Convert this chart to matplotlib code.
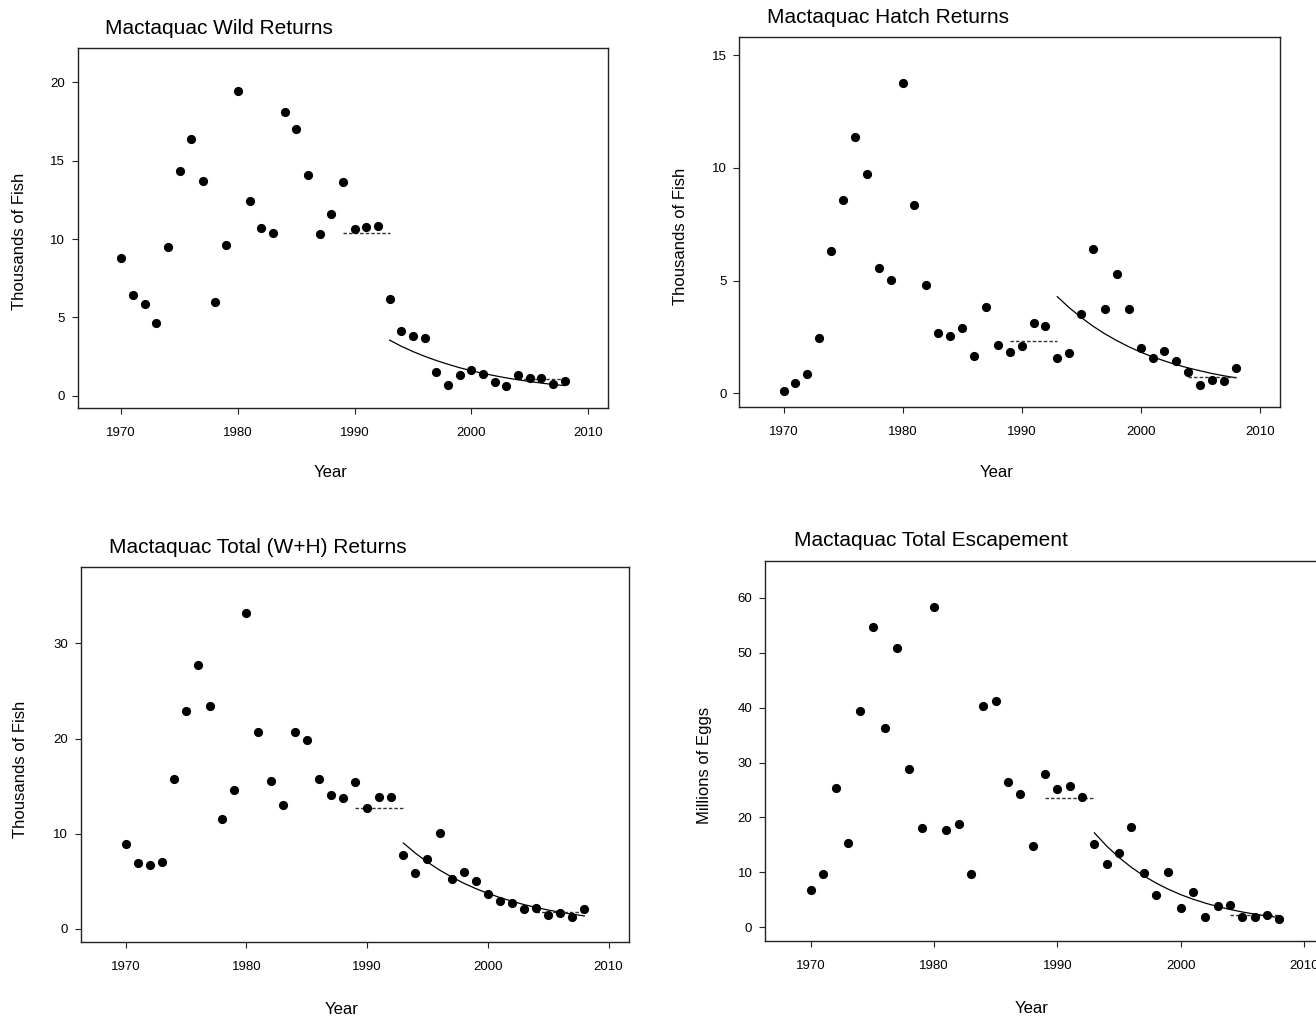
import numpy as np
import matplotlib
matplotlib.use("Agg")
import matplotlib.pyplot as plt

plt.rcParams['font.family'] = ['Liberation Sans', 'DejaVu Sans']

years = list(range(1970, 2009))
fit_years = list(range(1993, 2009))

# Mactaquac wild returns (thousands of fish)
wild = [8.78, 6.45, 5.84, 4.62, 9.50, 14.36, 16.38, 13.72, 5.96, 9.61,
        19.45, 12.40, 10.73, 10.37, 18.13, 17.00, 14.08, 10.29, 11.61, 13.63,
        10.63, 10.78, 10.82, 6.20, 4.13, 3.83, 3.66, 1.49, 0.68, 1.32,
        1.64, 1.36, 0.85, 0.64, 1.30, 1.15, 1.11, 0.72, 0.96]
wild_fit = [3.54, 3.15, 2.81, 2.51, 2.24, 2.00, 1.78, 1.59, 1.42, 1.27,
            1.13, 1.01, 0.90, 0.80, 0.71, 0.64]
wild_mean_early = 10.39
wild_mean_late = 1.06

# Mactaquac hatchery returns (thousands of fish)
hatch = [0.10, 0.44, 0.87, 2.47, 6.33, 8.59, 11.38, 9.72, 5.58, 5.01,
         13.79, 8.36, 4.81, 2.68, 2.56, 2.90, 1.66, 3.82, 2.16, 1.82,
         2.12, 3.14, 3.00, 1.57, 1.78, 3.51, 6.41, 3.76, 5.30, 3.76,
         2.00, 1.58, 1.89, 1.43, 0.93, 0.38, 0.59, 0.55, 1.14]
hatch_fit = [4.29, 3.80, 3.37, 2.98, 2.64, 2.34, 2.07, 1.83, 1.62, 1.44,
             1.27, 1.13, 1.00, 0.88, 0.78, 0.69]
hatch_mean_early = 2.33
hatch_mean_late = 0.72

# Mactaquac total (wild + hatchery) returns (thousands of fish)
total = [8.89, 6.90, 6.72, 7.07, 15.79, 22.90, 27.69, 23.38, 11.52, 14.63,
         33.18, 20.72, 15.54, 13.02, 20.65, 19.81, 15.72, 14.07, 13.76, 15.40,
         12.71, 13.90, 13.83, 7.77, 5.92, 7.39, 10.05, 5.22, 5.99, 5.08,
         3.64, 2.94, 2.73, 2.07, 2.21, 1.51, 1.68, 1.23, 2.10]
total_fit = [9.03, 7.96, 7.02, 6.19, 5.46, 4.81, 4.24, 3.74, 3.30, 2.91,
             2.56, 2.26, 1.99, 1.76, 1.55, 1.37]
total_mean_early = 12.74
total_mean_late = 1.82

# Mactaquac total escapement (millions of eggs)
eggs = [6.73, 9.71, 25.42, 15.35, 39.38, 54.73, 36.29, 50.91, 28.82, 18.02,
        58.37, 17.78, 18.87, 9.71, 40.23, 41.20, 26.52, 24.27, 14.87, 27.97,
        25.18, 25.73, 23.79, 15.11, 11.47, 13.53, 18.33, 9.83, 5.95, 10.13,
        3.58, 6.49, 1.88, 3.94, 4.07, 1.94, 1.82, 2.25, 1.52]
eggs_fit = [17.2, 14.78, 12.70, 10.91, 9.37, 8.05, 6.92, 5.94, 5.11, 4.39,
            3.77, 3.24, 2.78, 2.39, 2.05, 1.76]
eggs_mean_early = 23.6
eggs_mean_late = 2.3

early_span = [1989, 1993]
late_span = [2004, 2008]

panels = [
    dict(title="Mactaquac Wild Returns", ylab="Thousands of Fish",
         y=wild, fit=wild_fit, m1=wild_mean_early, m2=wild_mean_late,
         rect=[0.0593, 0.6004, 0.4027, 0.3526], ylim=(-0.79, 22.2),
         yticks=[0, 5, 10, 15, 20]),
    dict(title="Mactaquac Hatch Returns", ylab="Thousands of Fish",
         y=hatch, fit=hatch_fit, m1=hatch_mean_early, m2=hatch_mean_late,
         rect=[0.5619, 0.6017, 0.4107, 0.3618], ylim=(-0.59, 15.8),
         yticks=[0, 5, 10, 15]),
    dict(title="Mactaquac Total (W+H) Returns", ylab="Thousands of Fish",
         y=total, fit=total_fit, m1=total_mean_early, m2=total_mean_late,
         rect=[0.0616, 0.0771, 0.4164, 0.3673], ylim=(-1.4, 38.0),
         yticks=[0, 10, 20, 30]),
    dict(title="Mactaquac Total Escapement", ylab="Millions of Eggs",
         y=eggs, fit=eggs_fit, m1=eggs_mean_early, m2=eggs_mean_late,
         rect=[0.5815, 0.0784, 0.4253, 0.3725], ylim=(-2.5, 66.8),
         yticks=[0, 10, 20, 30, 40, 50, 60]),
]

fig = plt.figure(figsize=(13.16, 10.21), dpi=100)

for p in panels:
    ax = fig.add_axes(p['rect'])
    ax.plot(years, p['y'], 'o', color='black', markersize=5.6, zorder=3)
    ax.plot(fit_years, p['fit'], '-', color='black', lw=0.9)
    ax.plot(early_span, [p['m1']] * 2, color='#333333', lw=1.0,
            linestyle=(0, (2.5, 1.5)))
    ax.plot(late_span, [p['m2']] * 2, color='#333333', lw=1.0,
            linestyle=(0, (2.5, 1.5)))

    ax.set_xlim(1966.3, 2011.7)
    ax.set_ylim(*p['ylim'])
    ax.set_xticks([1970, 1980, 1990, 2000, 2010])
    ax.set_yticks(p['yticks'])
    ax.tick_params(direction='out', length=4.3, width=0.8, labelsize=9.5,
                   color='#222222')
    ax.tick_params(axis='x', pad=9.5)
    ax.tick_params(axis='y', pad=5)
    for s in ax.spines.values():
        s.set_color('#222222')
        s.set_linewidth(1.0)

    ax.set_xlabel("Year", fontsize=12)
    ax.set_ylabel(p['ylab'], fontsize=12)
    ax.xaxis.set_label_coords(0.476, -0.158)
    ax.yaxis.set_label_coords(-0.096, 0.462)
    ax.text(0.051, 1.038, p['title'], transform=ax.transAxes,
            fontsize=15, ha='left', va='baseline')

plt.savefig("out.png", dpi=100)
